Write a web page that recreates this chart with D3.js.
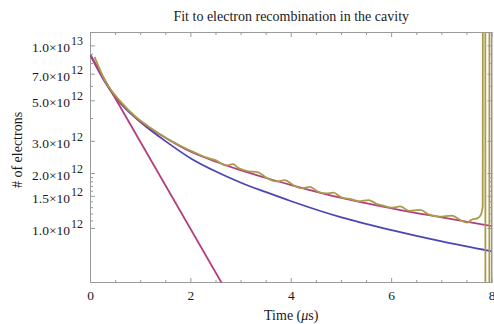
<!DOCTYPE html>
<html>
<head>
<meta charset="utf-8">
<script src="https://cdn.jsdelivr.net/npm/d3@7"></script>
<style>
  body { margin: 0; background: #fff; }
  svg { display: block; font-family: "Liberation Serif", "Times New Roman", serif; }
</style>
</head>
<body>
<div id="chart"></div>
<script>
// fit curves (time in microseconds)
const fitTime = [0, 0.25, 0.5, 0.75, 1, 1.5, 2, 2.5, 3, 3.5, 4, 5, 6, 7, 8];
const combinedFit = [8.89e12, 6.68e12, 5.25e12, 4.42e12, 3.85e12, 3.13e12, 2.63e12, 2.32e12, 2.08e12, 1.89e12, 1.73e12, 1.47e12, 1.29e12, 1.15e12, 1.03e12];
const secondOrderFit = [8.89e12, 6.6e12, 5.2e12, 4.4e12, 3.82e12, 3.0e12, 2.42e12, 2.05e12, 1.78e12, 1.58e12, 1.41e12, 1.15e12, 0.98e12, 0.85e12, 0.75e12];
// single exponential, straight on the log axis
const expTime = [0, 2.8];
const expFit = [8.89e12, 4.1e11];

// measured electrons
const dataTime = [0.08, 0.3, 0.6, 0.9, 1.2, 1.5, 1.8, 2.1, 2.3, 2.5, 2.7, 2.84, 2.95, 3.1, 3.34, 3.5, 3.7, 3.87,
  4.05, 4.2, 4.37, 4.55, 4.7, 4.84, 5.0, 5.2, 5.35, 5.54, 5.7, 5.85, 6.0, 6.17, 6.35, 6.57, 6.75, 6.95,
  7.2, 7.35, 7.5, 7.6, 7.72, 7.78, 7.815, 7.82, 7.866, 7.87, 7.946, 7.95, 7.996, 8.0];
const dataCount = [8.71e12, 6.38e12, 4.95e12, 4.09e12, 3.55e12, 3.14e12, 2.83e12, 2.59e12, 2.45e12, 2.36e12, 2.21e12, 2.25e12, 2.14e12, 2.07e12, 2.03e12, 1.90e12, 1.81e12, 1.84e12,
  1.72e12, 1.66e12, 1.69e12, 1.58e12, 1.556e12, 1.57e12, 1.48e12, 1.445e12, 1.41e12, 1.43e12, 1.365e12, 1.33e12, 1.30e12, 1.32e12, 1.25e12, 1.265e12, 1.19e12, 1.16e12,
  1.175e12, 1.12e12, 1.076e12, 1.12e12, 1.14e12, 1.19e12, 1.32e12, 3e14, 3e14, 1e10, 1e10, 3e14, 3e14, 1e10];

// axis ticks
const xMajor = [0, 2, 4, 6, 8];
const xMinor = [0.5, 1, 1.5, 2.5, 3, 3.5, 4.5, 5, 5.5, 6.5, 7, 7.5];
const yLabelValues = [1e12, 1.5e12, 2e12, 3e12, 5e12, 7e12, 1e13];
const yLabelMantissa = ["1.0", "1.5", "2.0", "3.0", "5.0", "7.0", "1.0"];
const yLabelExponent = ["12", "12", "12", "12", "12", "12", "13"];
const yMinor = [1.1e12, 1.2e12, 1.3e12, 1.4e12, 1.6e12, 1.7e12, 1.8e12, 1.9e12, 4e12, 6e12, 8e12, 9e12];

const width = 494, height = 324;
const plotLeft = 90.5, plotRight = 492, plotTop = 32.5, plotBottom = 282.5;

const x = d3.scaleLinear().domain([0, 8]).range([plotLeft, plotRight]);
const y = d3.scaleLog().domain([5.06e11, 1.184e13]).range([plotBottom, plotTop]);

const svg = d3.select("#chart").append("svg")
    .attr("width", width)
    .attr("height", height);

svg.append("clipPath").attr("id", "plot-clip")
  .append("rect")
    .attr("x", plotLeft).attr("y", plotTop)
    .attr("width", plotRight - plotLeft).attr("height", plotBottom - plotTop);

const frameColor = "#9a9a9a";
const textColor = "#1a1a1a";

// frame
svg.append("rect")
    .attr("x", plotLeft).attr("y", plotTop)
    .attr("width", plotRight - plotLeft).attr("height", plotBottom - plotTop)
    .attr("fill", "none")
    .attr("stroke", frameColor)
    .attr("stroke-width", 1);

// x ticks, bottom and top, pointing inward
const xTicks = xMajor.map(v => ({ v, len: 4.5 })).concat(xMinor.map(v => ({ v, len: 2.5 })));
svg.append("g").selectAll("line")
  .data(xTicks)
  .join("line")
    .attr("x1", d => x(d.v)).attr("x2", d => x(d.v))
    .attr("y1", plotBottom).attr("y2", d => plotBottom - d.len)
    .attr("stroke", frameColor);
svg.append("g").selectAll("line")
  .data(xTicks)
  .join("line")
    .attr("x1", d => x(d.v)).attr("x2", d => x(d.v))
    .attr("y1", plotTop).attr("y2", d => plotTop + d.len)
    .attr("stroke", frameColor);

// y ticks, left and right
const yTicks = yLabelValues.map(v => ({ v, len: 4.5 })).concat(yMinor.map(v => ({ v, len: 2.5 })));
svg.append("g").selectAll("line")
  .data(yTicks)
  .join("line")
    .attr("x1", plotLeft).attr("x2", d => plotLeft + d.len)
    .attr("y1", d => y(d.v)).attr("y2", d => y(d.v))
    .attr("stroke", frameColor);
svg.append("g").selectAll("line")
  .data(yTicks)
  .join("line")
    .attr("x1", plotRight).attr("x2", d => plotRight - d.len)
    .attr("y1", d => y(d.v)).attr("y2", d => y(d.v))
    .attr("stroke", frameColor);

// x tick labels
svg.append("g")
    .attr("font-size", 13.5)
    .attr("fill", textColor)
    .attr("text-anchor", "middle")
  .selectAll("text")
  .data(xMajor)
  .join("text")
    .attr("x", d => x(d))
    .attr("y", plotBottom + 17.5)
    .text(d => d);

// y tick labels  m x 10^e
const yLab = svg.append("g")
    .attr("fill", textColor)
    .attr("text-anchor", "end")
  .selectAll("text")
  .data(yLabelValues)
  .join("text")
    .attr("x", plotLeft - 7.5)
    .attr("y", d => y(d) + 6.5)
    .attr("font-size", 13.5);
yLab.append("tspan").text((d, i) => yLabelMantissa[i] + "\u00d710");
yLab.append("tspan")
    .attr("font-size", 12)
    .attr("dx", 1)
    .attr("dy", -7)
    .text((d, i) => yLabelExponent[i]);

// title and axis labels
svg.append("text")
    .attr("x", (plotLeft + plotRight) / 2)
    .attr("y", 20.5)
    .attr("text-anchor", "middle")
    .attr("font-size", 14)
    .attr("fill", textColor)
    .text("Fit to electron recombination in the cavity");

const xLabel = svg.append("text")
    .attr("x", (plotLeft + plotRight) / 2)
    .attr("y", 320)
    .attr("text-anchor", "middle")
    .attr("font-size", 14)
    .attr("fill", textColor);
xLabel.append("tspan").text("Time (");
xLabel.append("tspan").attr("font-style", "italic").text("\u03bc");
xLabel.append("tspan").text("s)");

svg.append("text")
    .attr("transform", "translate(21.5,150) rotate(-90)")
    .attr("text-anchor", "middle")
    .attr("font-size", 14)
    .attr("fill", textColor)
    .text("# of electrons");

// curves
const plot = svg.append("g").attr("clip-path", "url(#plot-clip)");
const line = d3.line()
    .x(d => x(d[0]))
    .y(d => y(d[1]))
    .curve(d3.curveMonotoneX);

const series = [
  { t: fitTime, n: secondOrderFit, color: "#4b46b6" },
  { t: expTime, n: expFit, color: "#b23e7e" },
  { t: fitTime, n: combinedFit, color: "#b23e7e" },
  { t: dataTime, n: dataCount, color: "#a99b48" }
];

plot.selectAll("path")
  .data(series)
  .join("path")
    .attr("fill", "none")
    .attr("stroke", d => d.color)
    .attr("stroke-width", 1.8)
    .attr("d", d => line(d.t.map((t, i) => [t, d.n[i]])));
</script>
</body>
</html>
